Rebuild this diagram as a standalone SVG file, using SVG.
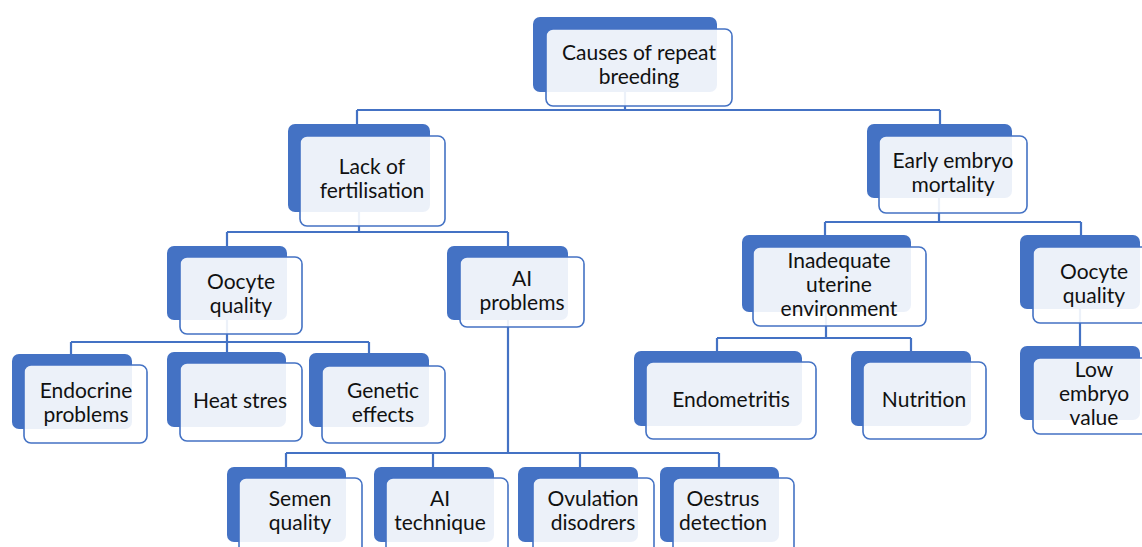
<svg xmlns="http://www.w3.org/2000/svg" width="1142" height="547" viewBox="0 0 1142 547">
<style>
.bk{fill:#4472C4;}
.fr{fill:#ffffff;fill-opacity:0.9;stroke:#4472C4;stroke-width:1.6;}
.t{font-family:Lato,"Liberation Sans",sans-serif;font-size:21px;fill:#111111;text-anchor:middle;}
.c{fill:none;stroke:#4472C4;stroke-width:2.2;}
</style>
<rect width="1142" height="547" fill="#ffffff"/>
<g id="connectors">
<path class="c" d="M625,80 V110 M357,110 H940 M357,110 V128 M940,110 V128"/>
<path class="c" d="M359,200 V232 M227,232 H508 M227,232 V250 M508,232 V250"/>
<path class="c" d="M939,190 V222 M825,222 H1081 M825,222 V240 M1081,222 V240"/>
<path class="c" d="M227,300 V342 M71,342 H369 M71,342 V358 M227,342 V356 M369,342 V357"/>
<path class="c" d="M508,300 V453 M286,453 H719 M286,453 V471 M433,453 V471 M580,453 V471 M719,453 V471"/>
<path class="c" d="M826,300 V338 M717,338 H911 M717,338 V355 M911,338 V355"/>
<path class="c" d="M1080,300 V350"/>
</g>
<g id="root"><rect class="bk" x="533" y="17" width="184" height="75" rx="7"/><rect class="fr" x="546" y="29" width="186" height="77" rx="7"/><text class="t" x="639" y="60">Causes of repeat</text><text class="t" x="639" y="84">breeding</text></g>
<g id="lack"><rect class="bk" x="288" y="124" width="142" height="88" rx="7"/><rect class="fr" x="300" y="136" width="145" height="90" rx="7"/><text class="t" x="372" y="174">Lack of</text><text class="t" x="372" y="198">fertilisation</text></g>
<g id="early"><rect class="bk" x="867" y="124" width="145" height="74" rx="7"/><rect class="fr" x="879" y="136" width="148" height="77" rx="7"/><text class="t" x="953" y="168">Early embryo</text><text class="t" x="953" y="192">mortality</text></g>
<g id="oocyte-left"><rect class="bk" x="167" y="246" width="120" height="74" rx="7"/><rect class="fr" x="180" y="257" width="122" height="77" rx="7"/><text class="t" x="241" y="289">Oocyte</text><text class="t" x="241" y="313">quality</text></g>
<g id="ai-problems"><rect class="bk" x="447" y="246" width="121" height="74" rx="7"/><rect class="fr" x="460" y="257" width="124" height="70" rx="7"/><text class="t" x="522" y="286">AI</text><text class="t" x="522" y="310">problems</text></g>
<g id="inadequate"><rect class="bk" x="742" y="235" width="169" height="77" rx="7"/><rect class="fr" x="753" y="247" width="173" height="79" rx="7"/><text class="t" x="839" y="268">Inadequate</text><text class="t" x="839" y="292">uterine</text><text class="t" x="839" y="316">environment</text></g>
<g id="oocyte-right"><rect class="bk" x="1020" y="235" width="120" height="74" rx="7"/><rect class="fr" x="1033" y="247" width="122" height="76" rx="7"/><text class="t" x="1094" y="279">Oocyte</text><text class="t" x="1094" y="303">quality</text></g>
<g id="endocrine"><rect class="bk" x="12" y="354" width="120" height="75" rx="7"/><rect class="fr" x="24" y="365" width="123" height="78" rx="7"/><text class="t" x="86" y="398">Endocrine</text><text class="t" x="86" y="422">problems</text></g>
<g id="heat"><rect class="bk" x="167" y="352" width="119" height="75" rx="7"/><rect class="fr" x="180" y="363" width="122" height="78" rx="7"/><text class="t" x="240" y="408">Heat stres</text></g>
<g id="genetic"><rect class="bk" x="309" y="353" width="120" height="74" rx="7"/><rect class="fr" x="322" y="366" width="123" height="77" rx="7"/><text class="t" x="383" y="398">Genetic</text><text class="t" x="383" y="422">effects</text></g>
<g id="endometritis"><rect class="bk" x="634" y="351" width="168" height="75" rx="7"/><rect class="fr" x="646" y="362" width="170" height="77" rx="7"/><text class="t" x="731" y="407">Endometritis</text></g>
<g id="nutrition"><rect class="bk" x="851" y="351" width="120" height="75" rx="7"/><rect class="fr" x="863" y="362" width="123" height="77" rx="7"/><text class="t" x="924" y="407">Nutrition</text></g>
<g id="low-embryo"><rect class="bk" x="1020" y="346" width="120" height="74" rx="7"/><rect class="fr" x="1033" y="358" width="122" height="76" rx="7"/><text class="t" x="1094" y="377">Low</text><text class="t" x="1094" y="401">embryo</text><text class="t" x="1094" y="425">value</text></g>
<g id="semen"><rect class="bk" x="227" y="467" width="119" height="75" rx="7"/><rect class="fr" x="239" y="478" width="123" height="78" rx="7"/><text class="t" x="300" y="506">Semen</text><text class="t" x="300" y="530">quality</text></g>
<g id="ai-technique"><rect class="bk" x="374" y="467" width="120" height="75" rx="7"/><rect class="fr" x="386" y="478" width="122" height="78" rx="7"/><text class="t" x="440" y="506">AI</text><text class="t" x="440" y="530">technique</text></g>
<g id="ovulation"><rect class="bk" x="518" y="467" width="120" height="75" rx="7"/><rect class="fr" x="533" y="478" width="121" height="78" rx="7"/><text class="t" x="593" y="506">Ovulation</text><text class="t" x="593" y="530">disodrers</text></g>
<g id="oestrus"><rect class="bk" x="660" y="467" width="119" height="75" rx="7"/><rect class="fr" x="673" y="478" width="121" height="78" rx="7"/><text class="t" x="723" y="506">Oestrus</text><text class="t" x="723" y="530">detection</text></g>
</svg>
